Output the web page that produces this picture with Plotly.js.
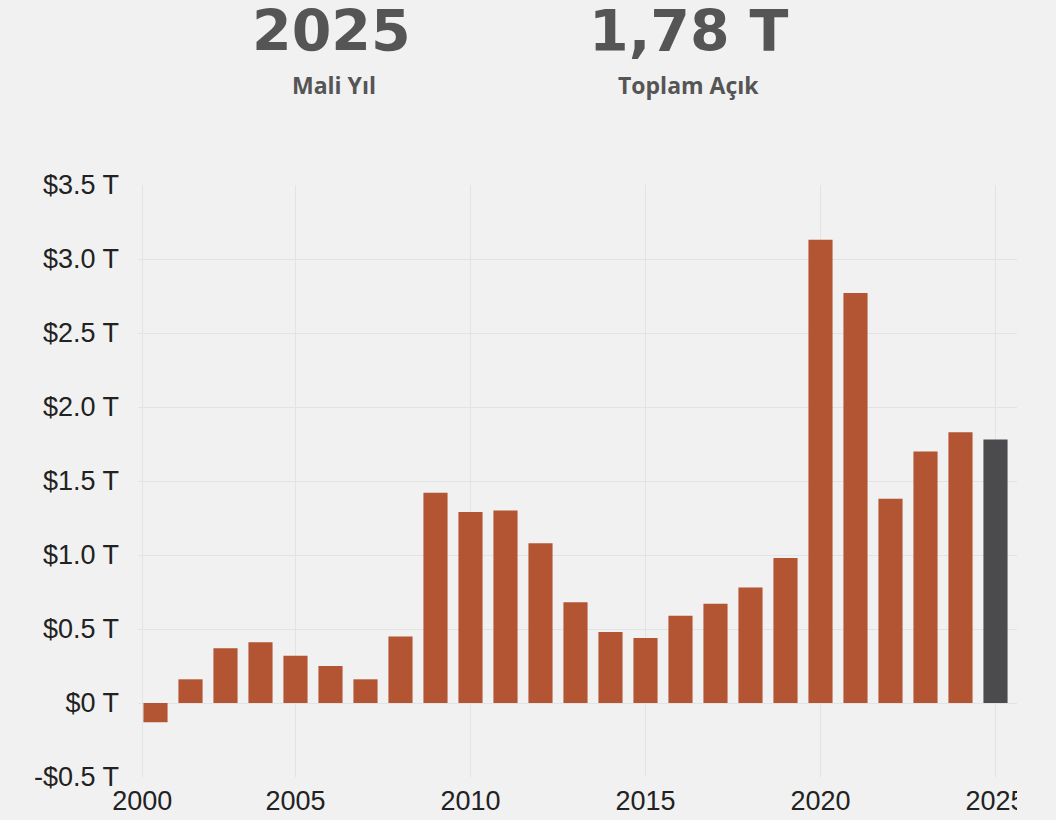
<!DOCTYPE html>
<html>
<head>
<meta charset="utf-8">
<script src="https://cdn.plot.ly/plotly-3.0.1.min.js"></script>
<style>
  html, body { margin: 0; padding: 0; background: #f1f1f1; }
  #wrap { width: 1017px; height: 820px; overflow: hidden; position: relative; }
  #chart { width: 1056px; height: 820px; }
</style>
</head>
<body>
<div id="wrap"><div id="chart"></div></div>
<script>
// Fiscal years and deficit (trillions USD; negative = surplus)
const years = [2001, 2002, 2003, 2004, 2005, 2006, 2007, 2008, 2009, 2010,
               2011, 2012, 2013, 2014, 2015, 2016, 2017, 2018, 2019, 2020,
               2021, 2022, 2023, 2024, 2025];
const deficits = [-0.13, 0.16, 0.37, 0.41, 0.32, 0.25, 0.16, 0.45, 1.42, 1.29,
                  1.30, 1.08, 0.68, 0.48, 0.44, 0.59, 0.67, 0.78, 0.98, 3.13,
                  2.77, 1.38, 1.70, 1.83, 1.78];
const highlightYear = 2025;

const xTickVals = [2000.62, 2005, 2010, 2015, 2020, 2025];
const xTickText = ["2000", "2005", "2010", "2015", "2020", "2025"];
const yTickVals = [-0.5, 0, 0.5, 1.0, 1.5, 2.0, 2.5, 3.0, 3.5];
const yTickText = ["-$0.5 T", "$0 T", "$0.5 T", "$1.0 T", "$1.5 T", "$2.0 T", "$2.5 T", "$3.0 T", "$3.5 T"];

const headerYear = "2025";
const headerYearLabel = "Mali Yıl";
const headerTotal = "1,78 T";
const headerTotalLabel = "Toplam Açık";

const barColors = years.map(y => y === highlightYear ? "#4b4b4e" : "#b35532");

const trace = {
  type: "bar",
  x: years,
  y: deficits,
  width: 0.69,
  marker: { color: barColors, line: { width: 0 } },
  hoverinfo: "x+y"
};

const bigFont = { family: "DejaVu Sans, sans-serif", color: "#555555", size: 57, weight: 700 };
const subFont = { family: "Open Sans, Noto Sans, sans-serif", color: "#555555", size: 23, weight: 700 };
const tickFont = { family: "Liberation Sans, Arial, sans-serif", size: 27, color: "#222222" };

const layout = {
  width: 1056,
  height: 820,
  paper_bgcolor: "#f1f1f1",
  plot_bgcolor: "#f1f1f1",
  margin: { l: 138, r: 36, t: 185, b: 43 },
  showlegend: false,
  bargap: 0.3,
  xaxis: {
    range: [2000.5, 2025.7],
    tickmode: "array",
    tickvals: xTickVals,
    ticktext: xTickText,
    showgrid: true,
    gridcolor: "#e3e3e3",
    gridwidth: 1,
    zeroline: false,
    showline: false,
    ticks: "",
    ticklabelstandoff: 5,
    tickfont: tickFont
  },
  yaxis: {
    range: [-0.5, 3.5],
    tickmode: "array",
    tickvals: yTickVals,
    ticktext: yTickText,
    showgrid: true,
    gridcolor: "#e3e3e3",
    gridwidth: 1,
    zeroline: false,
    showline: false,
    ticks: "",
    ticklabelstandoff: 18,
    tickfont: tickFont
  },
  annotations: [
    { text: headerYear, xref: "paper", yref: "paper", x: (331 - 138) / 882, y: (777 - 31) / 592,
      xanchor: "center", yanchor: "middle", showarrow: false, font: bigFont },
    { text: headerYearLabel, xref: "paper", yref: "paper", x: (334 - 138) / 882, y: (777 - 85) / 592,
      xanchor: "center", yanchor: "middle", showarrow: false, font: subFont },
    { text: headerTotal, xref: "paper", yref: "paper", x: (688 - 138) / 882, y: (777 - 31) / 592,
      xanchor: "center", yanchor: "middle", showarrow: false, font: bigFont },
    { text: headerTotalLabel, xref: "paper", yref: "paper", x: (688 - 138) / 882, y: (777 - 85) / 592,
      xanchor: "center", yanchor: "middle", showarrow: false, font: subFont }
  ]
};

Plotly.newPlot("chart", [trace], layout, { displayModeBar: false, staticPlot: true });
</script>
</body>
</html>
